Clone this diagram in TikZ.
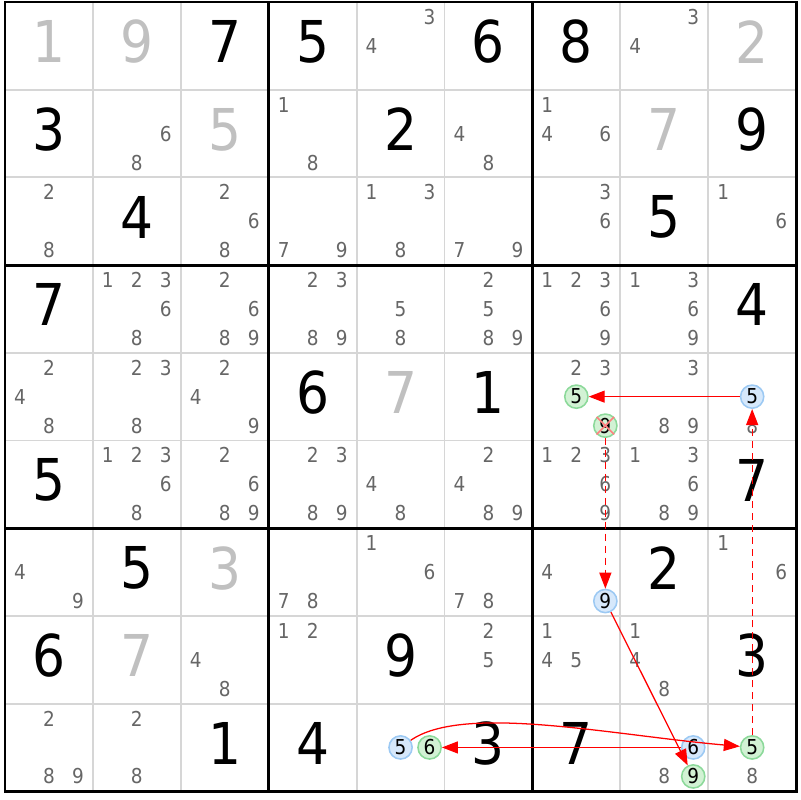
\documentclass[tikz,border=0pt]{standalone}
\usepackage{fontspec}
\setmainfont{DejaVu Sans Condensed}
\usepackage{tikz}
\usetikzlibrary{arrows.meta}
\definecolor{candgray}{HTML}{666666}
\definecolor{solvedgray}{HTML}{C0C0C0}
\definecolor{gridgray}{HTML}{D6D6D6}
\definecolor{bluefill}{HTML}{D6E8FB}
\definecolor{blueedge}{HTML}{9CC9F3}
\definecolor{greenfill}{HTML}{D2F2D4}
\definecolor{greenedge}{HTML}{8CD99A}
\definecolor{linkred}{HTML}{FF0000}
\tikzset{x=0.025cm, y=0.025cm, >={Triangle[length=0.4cm, width=0.3cm]}, every node/.style={inner sep=0pt}}
\def\cw{87.9}
\def\ch{87.7}

\begin{document}
\begin{tikzpicture}[given/.style={font=\fontsize{41}{41}\selectfont, text=black, yshift=0.1cm},
	solved/.style={given, text=solvedgray},
	cand/.style={font=\fontsize{14.6}{16}\selectfont, text=candgray},
	pick/.style={cand, text=black, circle, minimum size=0.58cm, line width=1.1pt},
	bluecand/.style={pick, fill=bluefill, draw=blueedge},
	greencand/.style={pick, fill=greenfill, draw=greenedge},
	link/.style={->, color=linkred, line width=0.9pt},
	weaklink/.style={link, dash pattern=on 5pt off 3.5pt}]
	\useasboundingbox (0,0) rectangle (800,800);
	% thin cell lines, then box lines
	\foreach \i in {1,2,4,5,7,8}
		{\draw[gridgray, line width=1.4pt] ({5+\i*\cw},{798-9*\ch}) -- ({5+\i*\cw},798);
		 \draw[gridgray, line width=1.4pt] (5,{798-\i*\ch}) -- ({5+9*\cw},{798-\i*\ch});}
	\foreach \i in {3,6}
		{\draw[black, line width=2.1pt] ({5+\i*\cw},{798-9*\ch}) -- ({5+\i*\cw},798);
		 \draw[black, line width=2.1pt] (5,{798-\i*\ch}) -- ({5+9*\cw},{798-\i*\ch});}
	\draw[black, line width=2.1pt] (5,{798-9*\ch}) rectangle ({5+9*\cw},798);
	% givens and solved cells
	\foreach \r/\c/\d/\s in {1/3/7/given, 1/4/5/given, 1/6/6/given, 1/7/8/given, 2/1/3/given, 2/5/2/given, 2/9/9/given,
		3/2/4/given, 3/8/5/given, 4/1/7/given, 4/9/4/given, 5/4/6/given, 5/6/1/given, 6/1/5/given, 6/9/7/given,
		7/2/5/given, 7/8/2/given, 8/1/6/given, 8/5/9/given, 8/9/3/given, 9/3/1/given, 9/4/4/given, 9/6/3/given, 9/7/7/given,
		1/1/1/solved, 1/2/9/solved, 1/9/2/solved, 2/3/5/solved, 2/8/7/solved, 5/5/7/solved, 7/3/3/solved, 8/2/7/solved}
		{\pgfmathsetmacro\px{5+(\c-0.5)*\cw}
		 \pgfmathsetmacro\py{798-(\r-0.5)*\ch}
		 \node[\s] (v\r\c) at (\px,\py) {\d};}
	% pencil marks
	\foreach \r/\c/\ds in {1/5/{3,4}, 1/8/{3,4},
		2/2/{6,8}, 2/4/{1,8}, 2/6/{4,8}, 2/7/{1,4,6},
		3/1/{2,8}, 3/3/{2,6,8}, 3/4/{7,9}, 3/5/{1,3,8}, 3/6/{7,9}, 3/7/{3,6}, 3/9/{1,6},
		4/2/{1,2,3,6,8}, 4/3/{2,6,8,9}, 4/4/{2,3,8,9}, 4/5/{5,8}, 4/6/{2,5,8,9}, 4/7/{1,2,3,6,9}, 4/8/{1,3,6,9},
		5/1/{2,4,8}, 5/2/{2,3,8}, 5/3/{2,4,9}, 5/7/{2,3}, 5/8/{3,8,9}, 5/9/{8},
		6/2/{1,2,3,6,8}, 6/3/{2,6,8,9}, 6/4/{2,3,8,9}, 6/5/{4,8}, 6/6/{2,4,8,9}, 6/7/{1,2,3,6,9}, 6/8/{1,3,6,8,9},
		7/1/{4,9}, 7/4/{7,8}, 7/5/{1,6}, 7/6/{7,8}, 7/7/{4}, 7/9/{1,6},
		8/3/{4,8}, 8/4/{1,2}, 8/6/{2,5}, 8/7/{1,4,5}, 8/8/{1,4,8},
		9/1/{2,8,9}, 9/2/{2,8}, 9/8/{8}, 9/9/{8}}
		\foreach \d in \ds
			{\pgfmathsetmacro\px{5+(\c-0.5)*\cw+(mod(\d-1,3)-1)*29}
			 \pgfmathsetmacro\py{798-(\r-0.5)*\ch-(floor((\d-1)/3)-1)*29}
			 \node[cand] (c\r\c\d) at (\px,\py) {\d};}
	% chain candidates
	\foreach \r/\c/\d/\s in {5/9/5/bluecand, 7/7/9/bluecand, 9/8/6/bluecand, 9/5/5/bluecand,
		5/7/5/greencand, 5/7/9/greencand, 9/5/6/greencand, 9/8/9/greencand, 9/9/5/greencand}
		{\pgfmathsetmacro\px{5+(\c-0.5)*\cw+(mod(\d-1,3)-1)*29}
		 \pgfmathsetmacro\py{798-(\r-0.5)*\ch-(floor((\d-1)/3)-1)*29}
		 \node[\s] (c\r\c\d) at (\px,\py) {\d};}
	\draw[red!50, line width=1.1pt] (c579.north west) -- (c579.south east) (c579.north east) -- (c579.south west);
	% links
	\draw[link] (c595) -- (c575);
	\draw[weaklink] (c579) -- (c779);
	\draw[link] (c779) -- (c989);
	\draw[link] (c986) -- (c956);
	\draw[link] (c955) to[out=35, in=175, out looseness=0.5, in looseness=1] (c995);
	\draw[weaklink] (c995) -- (c595);
\end{tikzpicture}
\end{document}
